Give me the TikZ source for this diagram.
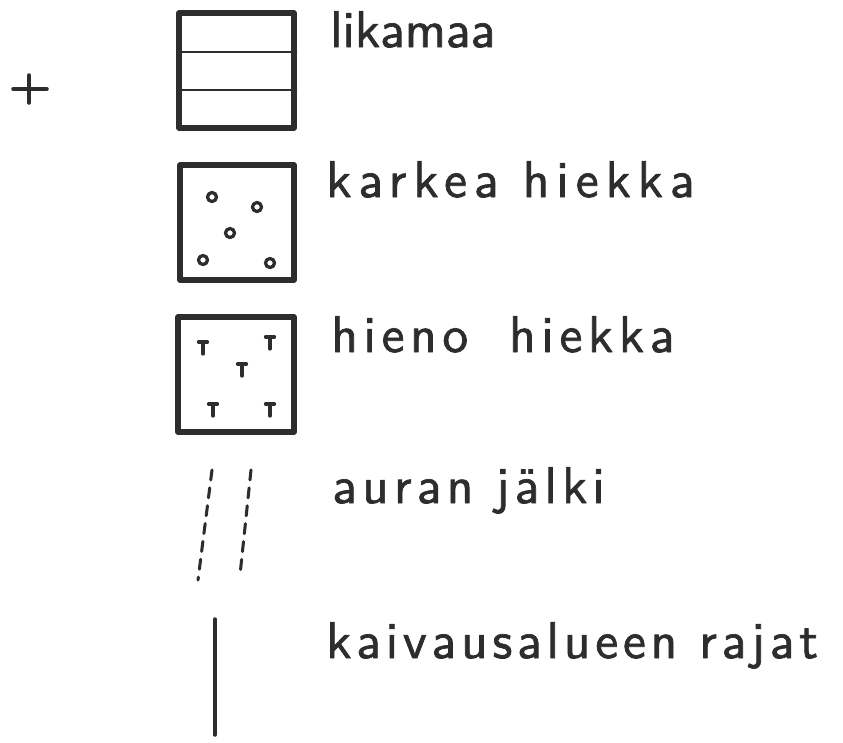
\documentclass[tikz,border=0pt]{standalone}
\usepackage{fontspec}
\newfontfamily\lettering{lmsans10-regular.otf}[FakeBold=1.4]
\usepackage{tikz}
\definecolor{inkgray}{RGB}{45,45,45}

\begin{document}
\begin{tikzpicture}[x=0.03cm, y=-0.03cm, line cap=round, line join=round, inkgray,
    frame/.style={line width=4.5pt},
    thin rule/.style={line width=2.5pt},
    grain/.style={line width=2.8pt},
    furrow/.style={line width=2.6pt, dash pattern=on 0.3cm off 0.24cm},
    legendtext/.style={font=\lettering\fontsize{44}{48}\selectfont, inner sep=0pt, anchor=base west}]
    \useasboundingbox (0,0) rectangle (843,742);
    % registration mark
    \draw[line width=3pt] (13,89) -- (47,89) (29,75) -- (29,103);
    % likamaa
    \draw[frame] (179,13) rectangle (294,128);
    \draw[thin rule] (179,52) -- (296,52) (179,90) -- (296,90);
    \node[legendtext] (lika) at (330,47) {likamaa};
    % karkea hiekka
    \draw[frame] (180,165) rectangle (294,280);
    \foreach \p in {(212,197), (257,207), (230,233), (203,260), (270,263)}
      \draw[grain] \p circle (4.5);
    \node[legendtext] (karkea) at (326,197) {\addfontfeature{LetterSpace=13.5}karkea hiekka};
    % hieno hiekka
    \draw[frame] (178,317) rectangle (294,432);
    \foreach \x/\y in {203/348, 270/343, 242/370, 213/410, 270/410}
      \draw[grain] (\x-4.5,\y-6) -- (\x+4.5,\y-6) (\x,\y-6) -- (\x,\y+6);
    \node[legendtext] (hieno) at (331,352) {\addfontfeature{LetterSpace=11}hieno\hspace{0.35em} hiekka};
    % auran jalki
    \draw[furrow] (212,470) -- (198,580);
    \draw[furrow] (251,470) -- (240,575);
    \node[legendtext] (aura) at (332,503) {\addfontfeature{LetterSpace=10}auran jälki};
    % kaivausalueen rajat
    \draw[line width=3pt] (215,619) -- (215,735);
    \node[legendtext] (rajat) at (326,658) {\addfontfeature{LetterSpace=9.3}kaivausalueen rajat};
\end{tikzpicture}
\end{document}
